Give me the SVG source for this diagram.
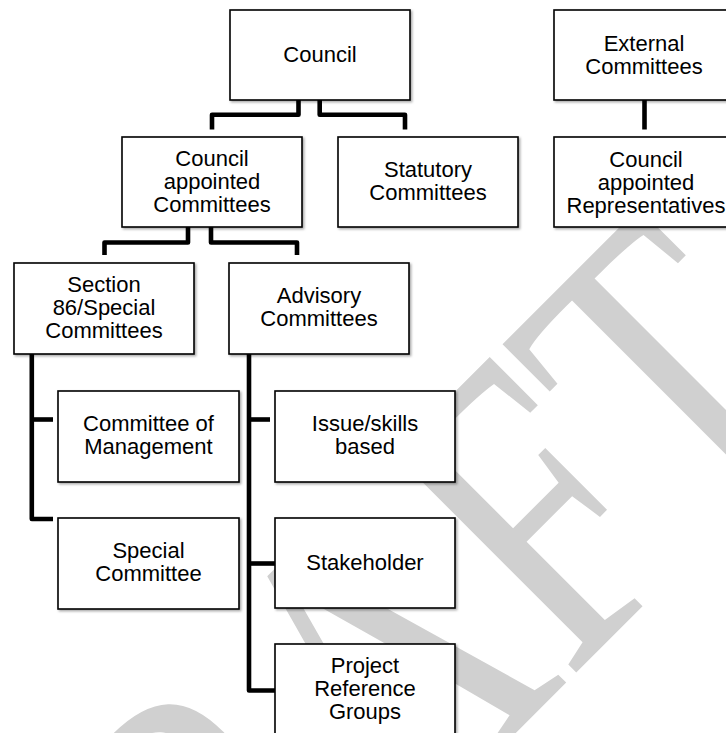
<svg xmlns="http://www.w3.org/2000/svg" width="726" height="733" viewBox="0 0 726 733">
<style>
.box{fill:#fff;stroke:#000;stroke-width:1.6;filter:url(#sh)}
.lbl{font-family:"Liberation Sans",Arial,sans-serif;font-size:22px;fill:#000;text-anchor:middle}
.con{fill:none;stroke:#000;stroke-width:4.6;stroke-linejoin:round;stroke-linecap:butt}
.wm{font-family:"Liberation Serif","Times New Roman",serif;font-size:334px;fill:#d0d0d0}
</style>
<defs>
<filter id="sh" x="-10%" y="-10%" width="130%" height="130%">
<feDropShadow dx="1.5" dy="1.5" stdDeviation="1" flood-color="#000" flood-opacity="0.35"/>
</filter>
</defs>
<rect width="726" height="733" fill="#fff"/>
<text class="wm" transform="translate(69.3,1179.5) rotate(-45) scale(1,1.3)">DRAFT</text>
<g id="connectors">
<path class="con" d="M298.5,100 V114.7 H212 V129.5"/>
<path class="con" d="M319.7,100 V114.7 H405 V129.5"/>
<path class="con" d="M644.5,100 V129.5"/>
<path class="con" d="M188,227 V242.5 H104.5 V255"/>
<path class="con" d="M211,227 V242.5 H297 V255"/>
<path class="con" d="M31.8,354 V519 H53"/>
<path class="con" d="M31.8,419.5 H53"/>
<path class="con" d="M249,354 V690.5 H275"/>
<path class="con" d="M249,419.5 H270"/>
<path class="con" d="M249,563.5 H275"/>
</g>
<g id="council"><rect class="box" x="230" y="10" width="180" height="90"/><text class="lbl" x="320" y="62">Council</text></g>
<g id="external"><rect class="box" x="554" y="10" width="180" height="90"/><text class="lbl" x="644" y="50.5">External</text><text class="lbl" x="644" y="73.5">Committees</text></g>
<g id="council-appointed"><rect class="box" x="122" y="137" width="180" height="90"/><text class="lbl" x="212" y="165.5">Council</text><text class="lbl" x="212" y="188.5">appointed</text><text class="lbl" x="212" y="211.5">Committees</text></g>
<g id="statutory"><rect class="box" x="338" y="137" width="180" height="90"/><text class="lbl" x="428" y="177">Statutory</text><text class="lbl" x="428" y="200">Committees</text></g>
<g id="representatives"><rect class="box" x="554" y="137" width="180" height="90"/><text class="lbl" x="646" y="167">Council</text><text class="lbl" x="646" y="190">appointed</text><text class="lbl" x="646" y="213">Representatives</text></g>
<g id="section86"><rect class="box" x="14" y="263" width="180" height="91"/><text class="lbl" x="104" y="292">Section</text><text class="lbl" x="104" y="315">86/Special</text><text class="lbl" x="104" y="338">Committees</text></g>
<g id="advisory"><rect class="box" x="229" y="263" width="180" height="91"/><text class="lbl" x="319" y="303">Advisory</text><text class="lbl" x="319" y="326">Committees</text></g>
<g id="com-management"><rect class="box" x="58" y="391" width="181" height="91"/><text class="lbl" x="148.5" y="431">Committee of</text><text class="lbl" x="148.5" y="454">Management</text></g>
<g id="issue-skills"><rect class="box" x="275" y="391" width="180" height="91"/><text class="lbl" x="365" y="431">Issue/skills</text><text class="lbl" x="365" y="454">based</text></g>
<g id="special"><rect class="box" x="58" y="518" width="181" height="91"/><text class="lbl" x="148.5" y="558">Special</text><text class="lbl" x="148.5" y="581">Committee</text></g>
<g id="stakeholder"><rect class="box" x="275" y="518" width="180" height="90"/><text class="lbl" x="365" y="569.5">Stakeholder</text></g>
<g id="project"><rect class="box" x="275" y="644" width="180" height="91"/><text class="lbl" x="365" y="673">Project</text><text class="lbl" x="365" y="696">Reference</text><text class="lbl" x="365" y="719">Groups</text></g>
</svg>
